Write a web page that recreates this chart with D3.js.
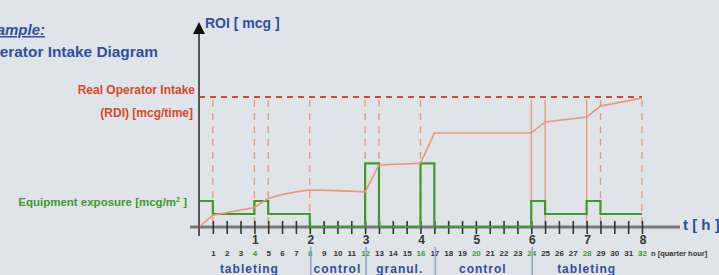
<!DOCTYPE html>
<html>
<head>
<meta charset="utf-8">
<script src="https://cdn.jsdelivr.net/npm/d3@7"></script>
<style>
  html, body { margin: 0; padding: 0; background: #dfe4e8; }
  svg { display: block; font-family: "Liberation Sans", Arial, sans-serif; }
</style>
</head>
<body>
<svg id="chart" width="719" height="275"></svg>
<script>
// quarter hours on the t axis
const quarters = d3.range(1, 33);
const hours = [1, 2, 3, 4, 5, 6, 7, 8];

// equipment exposure, one level per quarter hour (q0..q31)
const exposure = [20, 10, 10, 10, 20, 10, 10, 10,
                  0, 0, 0, 0,
                  49, 0, 0, 0, 49,
                  0, 0, 0, 0, 0, 0, 0,
                  20, 10, 10, 10, 20, 10, 10, 10];

// cumulative ROI read at these quarters
const roiQ = [0, 1, 4, 5, 6, 7, 8, 10, 12, 13, 16, 17, 24, 25, 28, 29, 32];
const roiV = [0, 9, 15, 22, 25, 27, 28.5, 28, 27, 47.7, 49, 72.3, 72.3, 80.8, 84.6, 93, 99.2];

// real operator intake level
const rdi = 100;

// orange guide lines at exposure changes
const guideQ = [1, 4, 5, 8, 12, 13, 16, 24, 25, 28, 29, 32];
const guideSolid = [24, 25, 28];

// activities along the time axis
const phases = [
  { name: "tableting", from: 0, to: 8 },
  { name: "control", from: 8, to: 12 },
  { name: "granul.", from: 12, to: 17 },
  { name: "control", from: 17, to: 24 },
  { name: "tableting", from: 24, to: 32 }
];

const svg = d3.select("#chart");
const x = d3.scaleLinear().domain([0, 32]).range([199, 642]);
const y = d3.scaleLinear().domain([0, 100]).range([227, 97]);

const blue = "#2f4f9f", red = "#d8472c", green = "#3f9a2e", orange = "#ec9677";

// left texts (cropped at the left edge, as in the original slide)
svg.append("text").attr("x", 45).attr("y", 35).attr("text-anchor", "end")
  .attr("font-size", 15).attr("font-style", "italic").attr("font-weight", "bold").attr("fill", blue)
  .attr("text-decoration", "underline").text("Example:");
svg.append("text").attr("x", 158).attr("y", 57).attr("text-anchor", "end")
  .attr("font-size", 15.4).attr("font-weight", "bold").attr("fill", blue).text("Operator Intake Diagram");
svg.append("text").attr("x", 195).attr("y", 94).attr("text-anchor", "end")
  .attr("font-size", 12).attr("font-weight", "bold").attr("fill", red).text("Real Operator Intake");
svg.append("text").attr("x", 193).attr("y", 117).attr("text-anchor", "end")
  .attr("font-size", 12).attr("font-weight", "bold").attr("fill", red).text("(RDI) [mcg/time]");
const eq = svg.append("text").attr("x", 187).attr("y", 206).attr("text-anchor", "end")
  .attr("font-size", 11.5).attr("font-weight", "bold").attr("fill", green);
eq.append("tspan").text("Equipment exposure [mcg/m");
eq.append("tspan").attr("dy", -4).attr("font-size", 7).text("2");
eq.append("tspan").attr("dy", 4).text(" ]");

// guide lines
svg.append("g").selectAll("line").data(guideQ).join("line")
  .attr("x1", d => x(d)).attr("x2", d => x(d))
  .attr("y1", y(rdi) + 3).attr("y2", y(0))
  .attr("stroke", orange).attr("stroke-width", 1.3)
  .attr("stroke-dasharray", d => guideSolid.includes(d) ? null : "7,6");

// RDI dashed line
svg.append("line").attr("x1", x(0)).attr("x2", x(32)).attr("y1", y(rdi)).attr("y2", y(rdi))
  .attr("stroke", red).attr("stroke-width", 2).attr("stroke-dasharray", "6,5");

// x axis (grey bar)
svg.append("line").attr("x1", 190).attr("x2", 680).attr("y1", y(0)).attr("y2", y(0))
  .attr("stroke", "#777").attr("stroke-width", 3);

// quarter hour ticks
const qAxis = d3.axisBottom(x).tickValues(quarters).tickSize(13).tickPadding(16)
  .tickFormat(d => d);
const qg = svg.append("g").attr("transform", `translate(0,${y(0) - 6})`).call(qAxis);
qg.select(".domain").remove();
qg.selectAll(".tick line").attr("stroke", "#333").attr("stroke-width", 1.6);
qg.selectAll(".tick text").attr("font-size", 8).attr("font-weight", "bold")
  .attr("font-family", "Liberation Sans, Arial")
  .attr("fill", d => d % 4 === 0 ? green : "#333");
svg.append("text").attr("x", x(32) + 9).attr("y", 256).attr("font-size", 7.5).attr("font-weight", "bold")
  .attr("fill", "#333").text("n [quarter hour]");

// hour labels
svg.append("g").selectAll("text").data(hours).join("text")
  .attr("x", d => x(d * 4) + 1).attr("y", 244).attr("text-anchor", "middle")
  .attr("font-size", 12).attr("font-weight", "bold").attr("fill", "#333").text(d => d);

// green exposure step line
const stepData = exposure.map((v, i) => ({ q: i, v })).concat([{ q: 32, v: exposure[31] }]);
svg.append("path").datum(stepData)
  .attr("d", d3.line().x(d => x(d.q)).y(d => y(d.v)).curve(d3.curveStepAfter))
  .attr("fill", "none").attr("stroke", green).attr("stroke-width", 2.2);

// cumulative ROI
const roiData = roiQ.map((q, i) => ({ q, v: roiV[i] }));
svg.append("path").datum(roiData)
  .attr("d", d3.line().x(d => x(d.q)).y(d => y(d.v)))
  .attr("fill", "none").attr("stroke", orange).attr("stroke-width", 1.6);

// y axis with arrow
svg.append("line").attr("x1", 199).attr("x2", 199).attr("y1", 30).attr("y2", 236)
  .attr("stroke", "#555").attr("stroke-width", 2);
svg.append("path").attr("d", "M199,22 L193,34 L205,34 Z").attr("fill", "#111");
svg.append("text").attr("x", 205).attr("y", 28).attr("font-size", 14).attr("font-weight", "bold")
  .attr("fill", blue).text("ROI [ mcg ]");
svg.append("text").attr("x", 683).attr("y", 230).attr("font-size", 15).attr("font-weight", "bold")
  .attr("fill", blue).attr("xml:space", "preserve").text("t [ h ]");

// phase separators and labels
const seps = phases.slice(1).map(p => p.from);
svg.append("g").selectAll("line").data(seps).join("line")
  .attr("x1", d => x(d) + 1).attr("x2", d => x(d) + 1).attr("y1", 247).attr("y2", 275)
  .attr("stroke", "#8fa3d3").attr("stroke-width", 1.5);
svg.append("g").selectAll("text").data(phases).join("text")
  .attr("x", d => (x(d.from) + x(d.to)) / 2 - (d.from === 0 ? 5 : 0)).attr("y", 273)
  .attr("text-anchor", "middle")
  .attr("font-size", 12).attr("font-weight", "bold").attr("letter-spacing", 1)
  .attr("fill", blue).text(d => d.name);
</script>
</body>
</html>
